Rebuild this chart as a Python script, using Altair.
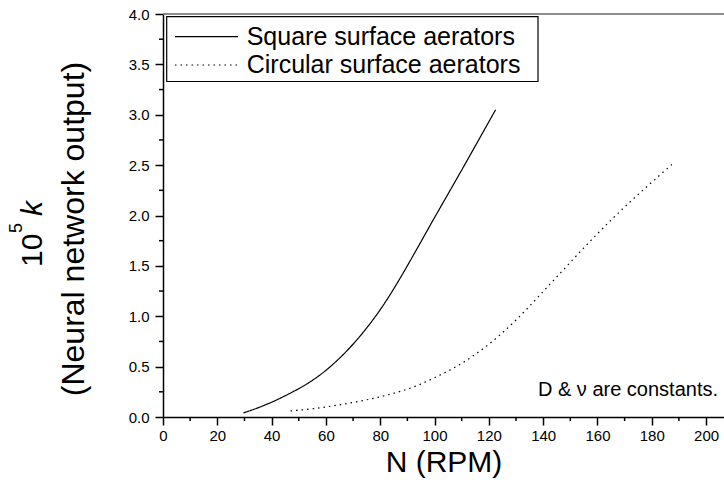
import altair as alt
import pandas as pd

# ---- data ----
series_names = ["Square surface aerators", "Circular surface aerators"]

square_n = [29.6, 35, 40, 45, 50, 55, 60, 65, 70, 75, 80, 85, 90, 95, 100, 105, 110, 115, 120, 122.5]
square_k = [0.04, 0.09, 0.145, 0.21, 0.28, 0.36, 0.46, 0.58, 0.72, 0.88, 1.06, 1.27, 1.50, 1.74, 1.98,
            2.215, 2.45, 2.69, 2.93, 3.05]

circular_n = [47, 55, 60, 65, 70, 75, 80, 85, 90, 95, 100, 105, 110, 115, 120, 125, 130, 135,
              140, 145, 150, 155, 160, 165, 170, 175, 180, 185, 188]
circular_k = [0.06, 0.08, 0.10, 0.12, 0.145, 0.17, 0.20, 0.235, 0.275, 0.325, 0.39, 0.455, 0.53, 0.62,
              0.72, 0.835, 0.96, 1.10, 1.245, 1.39, 1.535, 1.68, 1.82, 1.955, 2.085, 2.21, 2.33, 2.45, 2.52]

x_ticks = [0, 20, 40, 60, 80, 100, 120, 140, 160, 180, 200]
x_minor = [10, 30, 50, 70, 90, 110, 130, 150, 170, 190]
y_ticks = [0.0, 0.5, 1.0, 1.5, 2.0, 2.5, 3.0, 3.5, 4.0]
y_minor = [0.25, 0.75, 1.25, 1.75, 2.25, 2.75, 3.25, 3.75]

note_text = "D & ν are constants."
ylab_main = "10"
ylab_sup = "5"
ylab_sym = "k"
ylab_line2 = "(Neural network output)"

# ---- tables ----
df = pd.concat([
    pd.DataFrame({"N": square_n, "k": square_k, "series": series_names[0], "o": range(len(square_n))}),
    pd.DataFrame({"N": circular_n, "k": circular_k, "series": series_names[1], "o": range(len(circular_n))}),
], ignore_index=True)

FONT = "Liberation Sans"
W, H = 561, 403
DASHES = [[1, 0], [1.5, 4]]
xscale = alt.Scale(domain=[0, 206.6], nice=False, zero=False)
yscale = alt.Scale(domain=[0, 4], nice=False)

x_axis = alt.Axis(values=x_ticks, title="N (RPM)", titleFontSize=30, titleFont=FONT,
                  titleFontWeight="normal", titleColor="black", titlePadding=4,
                  labelFontSize=15, labelFont=FONT, labelColor="black", tickSize=8,
                  labelPadding=3, labelFlush=False, labelOverlap=False, grid=False)
y_axis = alt.Axis(values=y_ticks, format=".1f", title=None, labelFontSize=15,
                  labelFont=FONT, labelColor="black", tickSize=8, labelPadding=6,
                  labelOverlap=False, grid=False)

lines = alt.Chart(df).mark_line(color="black", strokeWidth=1.2, interpolate="basis").encode(
    x=alt.X("N:Q", scale=xscale, axis=x_axis),
    y=alt.Y("k:Q", scale=yscale, axis=y_axis),
    strokeDash=alt.StrokeDash("series:N", scale=alt.Scale(domain=series_names, range=DASHES),
                              legend=None),
    order="o:Q",
)

minor_x = alt.Chart(pd.DataFrame({"N": x_minor})).mark_rule(color="black", strokeWidth=1.5).encode(
    x=alt.X("N:Q", scale=xscale, axis=x_axis), y=alt.value(H), y2=alt.value(H + 4))

minor_y = alt.Chart(pd.DataFrame({"k": y_minor})).mark_rule(color="black", strokeWidth=1.5).encode(
    y=alt.Y("k:Q", scale=yscale, axis=y_axis), x=alt.value(0), x2=alt.value(-4))

one = pd.DataFrame({"a": [0]})
top_line = alt.Chart(one).mark_rule(color="#666666", strokeWidth=1.5).encode(
    x=alt.value(0), x2=alt.value(W), y=alt.value(0))

# legend box, drawn by hand
leg_box = alt.Chart(one).mark_rect(fill="white", stroke="black", strokeWidth=1.2).encode(
    x=alt.value(3.7), x2=alt.value(375), y=alt.value(2.7), y2=alt.value(67.5))
leg_rows = [22.7, 51]
leg_lines = [
    alt.Chart(one).mark_rule(color="black", strokeWidth=1.2, strokeDash=DASHES[i]).encode(
        x=alt.value(12), x2=alt.value(75), y=alt.value(leg_rows[i]))
    for i in range(2)
]


def txt(t, x, y, size, align="left", baseline="alphabetic", angle=0, style="normal"):
    return alt.Chart(pd.DataFrame({"t": [t]})).mark_text(
        font=FONT, fontSize=size, align=align, baseline=baseline, angle=angle,
        fontStyle=style, color="black").encode(text="t:N", x=alt.value(x), y=alt.value(y))


leg_text = [txt(series_names[i], 83.7, leg_rows[i], 25, baseline="middle") for i in range(2)]

note = txt(note_text, 555, 376, 20, align="right", baseline="middle")
yl_10 = txt(ylab_main, -121, 253, 30, angle=270)
yl_5 = txt(ylab_sup, -141, 219, 18, angle=270)
yl_k = txt(ylab_sym, -121, 202, 30, angle=270, style="italic")
yl_2 = txt(ylab_line2, -79, 215, 32, align="center", angle=270)

chart = alt.layer(lines, minor_x, minor_y, top_line, leg_box, *leg_lines, *leg_text,
                  note, yl_10, yl_5, yl_k, yl_2).properties(
    width=W, height=H,
    autosize=alt.AutoSizeParams(type="none"),
    padding={"left": 163, "top": 14, "right": 0, "bottom": 73},
    background="white",
).configure_axis(
    domainColor="black", domainWidth=1.5, tickColor="black", tickWidth=1.5,
).configure_view(stroke=None)

chart.save("out.html", embed_options={"renderer": "svg", "actions": False})
